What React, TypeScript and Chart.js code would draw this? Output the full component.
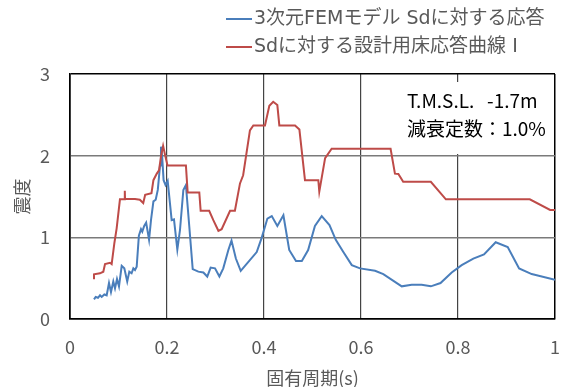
import React, { useEffect, useRef } from "react";
import { Chart, registerables } from "chart.js";

Chart.register(...registerables);

// 3次元FEMモデル Sdに対する応答
const femPeriods = [
  0.0495, 0.053, 0.0577, 0.0619, 0.0653, 0.0708, 0.0756, 0.0804, 0.0845, 0.0893,
  0.0928, 0.0969, 0.101, 0.1066, 0.112, 0.118, 0.1223, 0.127, 0.1306, 0.134,
  0.1375, 0.142, 0.1464, 0.149, 0.153, 0.157, 0.163, 0.167, 0.172, 0.1767,
  0.181, 0.1835, 0.1856, 0.1876, 0.19, 0.193, 0.197, 0.2014, 0.2096, 0.2144,
  0.2213, 0.2268, 0.2337, 0.239, 0.246, 0.253, 0.2646, 0.275, 0.283, 0.29,
  0.299, 0.308, 0.316, 0.3265, 0.333, 0.342, 0.352, 0.385, 0.395, 0.407,
  0.416, 0.4275, 0.44, 0.452, 0.466, 0.478, 0.491, 0.505, 0.519, 0.535,
  0.548, 0.5636, 0.581, 0.598, 0.629, 0.646, 0.684, 0.7045, 0.725, 0.744,
  0.764, 0.787, 0.8076, 0.8316, 0.8536, 0.8777, 0.9025, 0.926, 0.952, 1.0,
];
const femValues = [
  0.24, 0.27, 0.26, 0.29, 0.27, 0.3, 0.29, 0.44, 0.33, 0.46,
  0.375, 0.49, 0.4, 0.65, 0.62, 0.46, 0.58, 0.56, 0.62, 0.6,
  0.64, 1.02, 1.1, 1.07, 1.14, 1.18, 0.97, 1.21, 1.44, 1.46,
  1.58, 1.74, 1.88, 2.11, 1.99, 1.7, 1.64, 1.69, 1.21, 1.22,
  0.85, 1.09, 1.58, 1.64, 1.13, 0.61, 0.58, 0.57, 0.52, 0.63,
  0.62, 0.52, 0.62, 0.845, 0.96, 0.74, 0.59, 0.82, 0.99, 1.23,
  1.26, 1.14, 1.27, 0.845, 0.71, 0.71, 0.845, 1.14, 1.26, 1.15,
  0.97, 0.82, 0.66, 0.62, 0.59, 0.55, 0.4, 0.42, 0.42, 0.4,
  0.44, 0.57, 0.66, 0.74, 0.79, 0.94, 0.88, 0.62, 0.55, 0.48,
];

// Sdに対する設計用床応答曲線 Ⅰ
const designPeriods = [
  0.0495, 0.0495, 0.0619, 0.0687, 0.0722, 0.0825, 0.0859, 0.0914, 0.0962, 0.103,
  0.113, 0.113, 0.1135, 0.134, 0.144, 0.151, 0.155, 0.168, 0.172, 0.179,
  0.1835, 0.1876, 0.192, 0.196, 0.201, 0.239, 0.2426, 0.2666, 0.2694, 0.287,
  0.2955, 0.306, 0.3127, 0.33, 0.34, 0.3505, 0.357, 0.371, 0.378, 0.402,
  0.411, 0.419, 0.4275, 0.4316, 0.464, 0.473, 0.4845, 0.512, 0.514, 0.526,
  0.5395, 0.661, 0.67, 0.677, 0.687, 0.744, 0.775, 0.948, 0.99, 1.0,
];
const designValues = [
  0.486, 0.547, 0.559, 0.579, 0.673, 0.689, 0.673, 0.926, 1.11, 1.465,
  1.465, 1.57, 1.47, 1.47, 1.46, 1.42, 1.52, 1.54, 1.7, 1.78,
  1.82, 1.99, 2.12, 2.01, 1.88, 1.88, 1.55, 1.55, 1.325, 1.325,
  1.21, 1.08, 1.1, 1.325, 1.325, 1.66, 1.76, 2.31, 2.37, 2.37,
  2.61, 2.66, 2.62, 2.37, 2.37, 2.32, 1.7, 1.7, 1.56, 1.97,
  2.085, 2.085, 1.78, 1.775, 1.68, 1.68, 1.465, 1.465, 1.335, 1.335,
];

const xTicks = [0, 0.2, 0.4, 0.6, 0.8, 1];
const xTickLabels = ["0", "0.2", "0.4", "0.6", "0.8", "1"];
const yTicks = [0, 1, 2, 3];
const yTickLabels = ["0", "1", "2", "3"];
const seriesLabels = ["3次元FEMモデル Sdに対する応答", "Sdに対する設計用床応答曲線 Ⅰ"];
const noteLines = ["T.M.S.L.   -1.7m", "減衰定数：1.0%"];
const xTitle = "固有周期(s)";
const yTitle = "震度";

const FONT = "'Noto Sans CJK JP', sans-serif";
const LEGEND_FONT = "'DejaVu Sans', 'Noto Sans CJK JP', sans-serif";
const BLUE = "#4A7EBB";
const RED = "#BE4B48";
const GRAY_TEXT = "#595959";

export default function App() {
  const ref = useRef<HTMLCanvasElement>(null);

  useEffect(() => {
    document.body.style.margin = "0";
    const canvas = ref.current;
    if (!canvas) return;

    const overlay = {
      id: "overlay",
      afterDraw(chart: any) {
        const c = chart.ctx as CanvasRenderingContext2D;
        c.save();
        // annotation box
        c.fillStyle = "#ffffff";
        c.fillRect(400, 82, 150, 72);
        c.fillStyle = "#000000";
        c.font = `19px ${FONT}`;
        c.textBaseline = "middle";
        c.textAlign = "left";
        c.fillText(noteLines[0], 407, 101);
        c.fillText(noteLines[1], 407, 129);
        // legend
        const rows = [19, 47];
        chart.data.datasets.forEach((ds: any, i: number) => {
          const y = rows[i];
          c.strokeStyle = ds.borderColor;
          c.lineWidth = 2;
          c.beginPath();
          c.moveTo(226, y);
          c.lineTo(252, y);
          c.stroke();
          c.fillStyle = GRAY_TEXT;
          c.font = `19px ${LEGEND_FONT}`;
          c.fillText(ds.label, 254, y);
        });
        c.restore();
      },
    };

    const chart = new Chart(canvas, {
      type: "scatter",
      data: {
        datasets: [
          {
            label: seriesLabels[0],
            data: femPeriods.map((x, i) => ({ x, y: femValues[i] })),
            showLine: true,
            borderColor: BLUE,
            backgroundColor: BLUE,
            borderWidth: 2,
            pointRadius: 0,
            order: 1,
          },
          {
            label: seriesLabels[1],
            data: designPeriods.map((x, i) => ({ x, y: designValues[i] })),
            showLine: true,
            borderColor: RED,
            backgroundColor: RED,
            borderWidth: 2,
            pointRadius: 0,
            order: 0,
          },
        ],
      },
      options: {
        responsive: false,
        animation: false,
        layout: { padding: { top: 74, right: 7, left: 0, bottom: 0 } },
        plugins: {
          legend: { display: false },
          tooltip: { enabled: false },
        },
        scales: {
          x: {
            type: "linear",
            min: 0,
            max: 1,
            afterBuildTicks: (axis: any) => {
              axis.ticks = xTicks.map((v) => ({ value: v }));
            },
            afterFit: (axis: any) => {
              axis.height = 68;
              axis.paddingLeft = 0;
              axis.paddingRight = 0;
            },
            ticks: {
              padding: 17,
              color: GRAY_TEXT,
              font: { family: FONT, size: 18 },
              maxRotation: 0,
              autoSkip: false,
              callback: (_v: any, i: number) => xTickLabels[i],
            },
            grid: {
              drawTicks: false,
              color: (ctx: any) =>
                ctx.tick && (ctx.tick.value === 0 || ctx.tick.value === 1) ? "#000000" : "#444444",
              lineWidth: (ctx: any) =>
                ctx.tick && (ctx.tick.value === 0 || ctx.tick.value === 1) ? 1.5 : 1.2,
            },
            border: { display: true, color: "#000000", width: 1.5 },
            title: {
              display: true,
              text: xTitle,
              color: GRAY_TEXT,
              font: { family: FONT, size: 18, lineHeight: 1 },
              padding: { top: 0, bottom: 0 },
            },
          },
          y: {
            type: "linear",
            min: 0,
            max: 3,
            afterBuildTicks: (axis: any) => {
              axis.ticks = yTicks.map((v) => ({ value: v }));
            },
            afterFit: (axis: any) => {
              axis.width = 70;
              axis.paddingTop = 0;
              axis.paddingBottom = 0;
            },
            ticks: {
              padding: 20,
              color: GRAY_TEXT,
              font: { family: FONT, size: 18 },
              callback: (_v: any, i: number) => yTickLabels[i],
            },
            grid: {
              drawTicks: false,
              color: (ctx: any) =>
                ctx.tick && (ctx.tick.value === 0 || ctx.tick.value === 3) ? "#000000" : "#7a7a7a",
              lineWidth: 1.5,
            },
            border: { display: true, color: "#000000", width: 1.5 },
            title: {
              display: true,
              text: yTitle,
              color: GRAY_TEXT,
              font: { family: FONT, size: 18 },
              padding: { top: 11, bottom: 0 },
            },
          },
        },
      },
      plugins: [overlay],
    } as any);

    return () => chart.destroy();
  }, []);

  return (
    <div style={{ position: "fixed", left: 0, top: 0, width: 562, height: 387, background: "#fff" }}>
      <canvas ref={ref} width={562} height={387} style={{ display: "block" }} />
    </div>
  );
}
